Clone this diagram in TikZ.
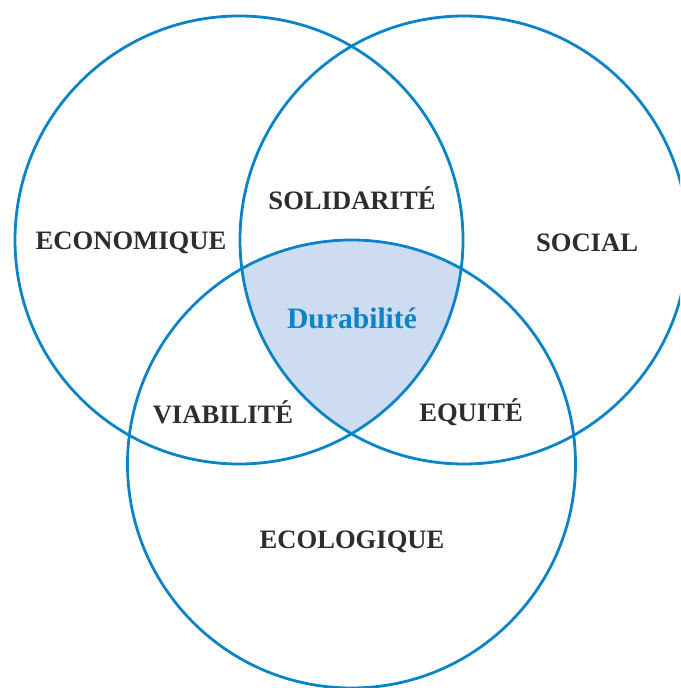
\documentclass[tikz,border=0pt]{standalone}
\usepackage{fontspec}
\setmainfont{Liberation Serif}
\usepackage{tikz}
\definecolor{Vblue}{RGB}{10,132,198}
\definecolor{Vfill}{RGB}{205,220,240}
\definecolor{Vtext}{RGB}{45,45,45}

\begin{document}
\begin{tikzpicture}[x=0.5pt, y=-0.5pt]
    \useasboundingbox (0,0) rectangle (680,688);
    \clip (0,0) rectangle (680,688);
    % centres of the three spheres
    \coordinate (ceco) at (239,240);
    \coordinate (csoc) at (464,240);
    \coordinate (cenv) at (351.5,464);
    % shared part
    \begin{scope}
        \clip (ceco) circle (224);
        \clip (csoc) circle (224);
        \fill [Vfill, draw=Vblue, line width=0.4pt] (cenv) circle (224);
    \end{scope}
    \draw [Vblue, line width=1.4pt] (ceco) circle (224);
    \draw [Vblue, line width=1.4pt] (csoc) circle (224);
    \draw [Vblue, line width=1.4pt] (cenv) circle (224);
    % labels
    \node [text=Vtext, font=\bfseries\fontsize{13.3}{15}\selectfont] (eco) at (131,243) {ECONOMIQUE};
    \node [text=Vtext, font=\bfseries\fontsize{13.3}{15}\selectfont] (soc) at (587,243) {SOCIAL};
    \node [text=Vtext, font=\bfseries\fontsize{13.3}{15}\selectfont] (sol) at (352,198) {SOLIDARITÉ};
    \node [text=Vtext, font=\bfseries\fontsize{13.3}{15}\selectfont] (via) at (223,412) {VIABILITÉ};
    \node [text=Vtext, font=\bfseries\fontsize{13.3}{15}\selectfont] (equ) at (471,412) {EQUITÉ};
    \node [text=Vtext, font=\bfseries\fontsize{13.3}{15}\selectfont] (env) at (352,542) {ECOLOGIQUE};
    \node [text=Vblue, font=\bfseries\fontsize{14.8}{16}\selectfont] (dur) at (352,318) {Durabilité};
\end{tikzpicture}
\end{document}
